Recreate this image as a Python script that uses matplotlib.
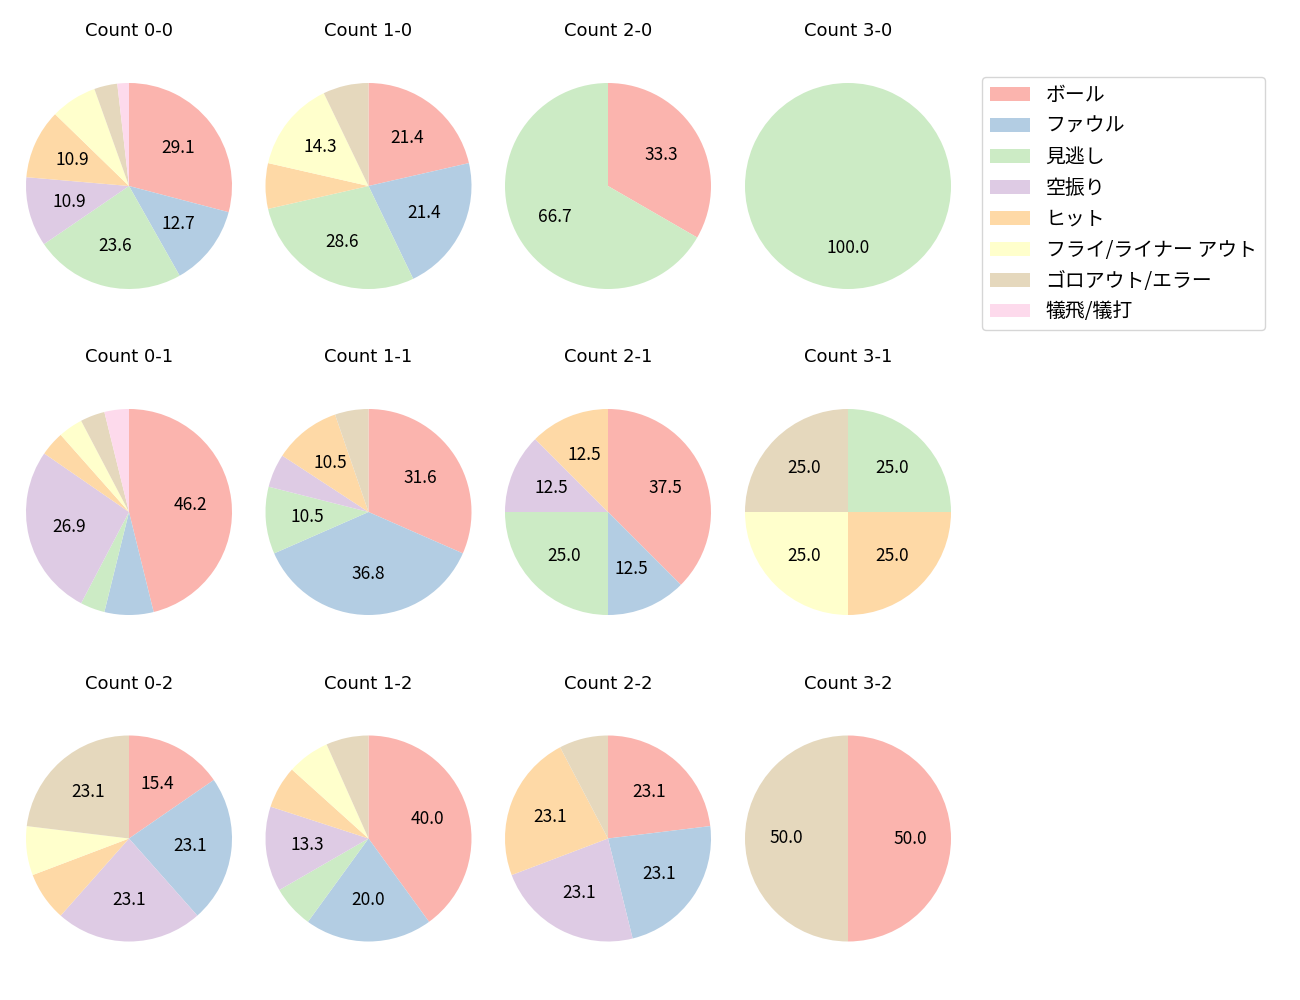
import matplotlib
matplotlib.use("Agg")
import matplotlib.pyplot as plt
from matplotlib.patches import Patch

plt.rcParams['font.family'] = ['Noto Sans CJK JP', 'DejaVu Sans']

categories = ['ボール', 'ファウル', '見逃し', '空振り', 'ヒット',
              'フライ/ライナー アウト', 'ゴロアウト/エラー', '犠飛/犠打']
colors = ['#fbb4ae', '#b3cde3', '#ccebc5', '#decbe4', '#fed9a6',
          '#ffffcc', '#e5d8bd', '#fddaec']

count_titles = [['Count 0-0', 'Count 1-0', 'Count 2-0', 'Count 3-0'],
                ['Count 0-1', 'Count 1-1', 'Count 2-1', 'Count 3-1'],
                ['Count 0-2', 'Count 1-2', 'Count 2-2', 'Count 3-2']]

c_0_0 = [16, 7, 13, 6, 6, 4, 2, 1]
c_1_0 = [3, 3, 4, 0, 1, 2, 1, 0]
c_2_0 = [1, 0, 2, 0, 0, 0, 0, 0]
c_3_0 = [0, 0, 1, 0, 0, 0, 0, 0]
c_0_1 = [12, 2, 1, 7, 1, 1, 1, 1]
c_1_1 = [6, 7, 2, 1, 2, 0, 1, 0]
c_2_1 = [3, 1, 2, 1, 1, 0, 0, 0]
c_3_1 = [0, 0, 1, 0, 1, 1, 1, 0]
c_0_2 = [2, 3, 0, 3, 1, 1, 3, 0]
c_1_2 = [6, 3, 1, 2, 1, 1, 1, 0]
c_2_2 = [3, 3, 0, 3, 3, 0, 1, 0]
c_3_2 = [1, 0, 0, 0, 0, 0, 1, 0]

grid = [[c_0_0, c_1_0, c_2_0, c_3_0],
        [c_0_1, c_1_1, c_2_1, c_3_1],
        [c_0_2, c_1_2, c_2_2, c_3_2]]

W, H = 1300, 1000
fig = plt.figure(figsize=(13, 10), dpi=100)

col_cx = [129, 368.5, 608, 848]
row_cy = [186, 512, 838.5]
R = 103
size = 2 * 1.25 * R

def fmt(p):
    return f'{p:.1f}' if p >= 10 else ''

for r in range(3):
    for c in range(4):
        cx, cy = col_cx[c], row_cy[r]
        ax = fig.add_axes([(cx - size / 2) / W, (H - cy - size / 2) / H, size / W, size / H])
        vals = grid[r][c]
        ax.pie(vals, colors=colors, startangle=90, counterclock=False,
               autopct=fmt, pctdistance=0.6, textprops={'fontsize': 12.5})
        ax.set_title(count_titles[r][c], fontsize=13, pad=15,
                     family=['DejaVu Sans', 'Noto Sans CJK JP'])

handles = [Patch(facecolor=col, label=lab) for col, lab in zip(colors, categories)]
fig.legend(handles=handles, loc='upper left', bbox_to_anchor=(982 / W, 1 - 77 / H),
           borderaxespad=0, fontsize=14.3, frameon=True)

fig.savefig('out.png', dpi=100)
